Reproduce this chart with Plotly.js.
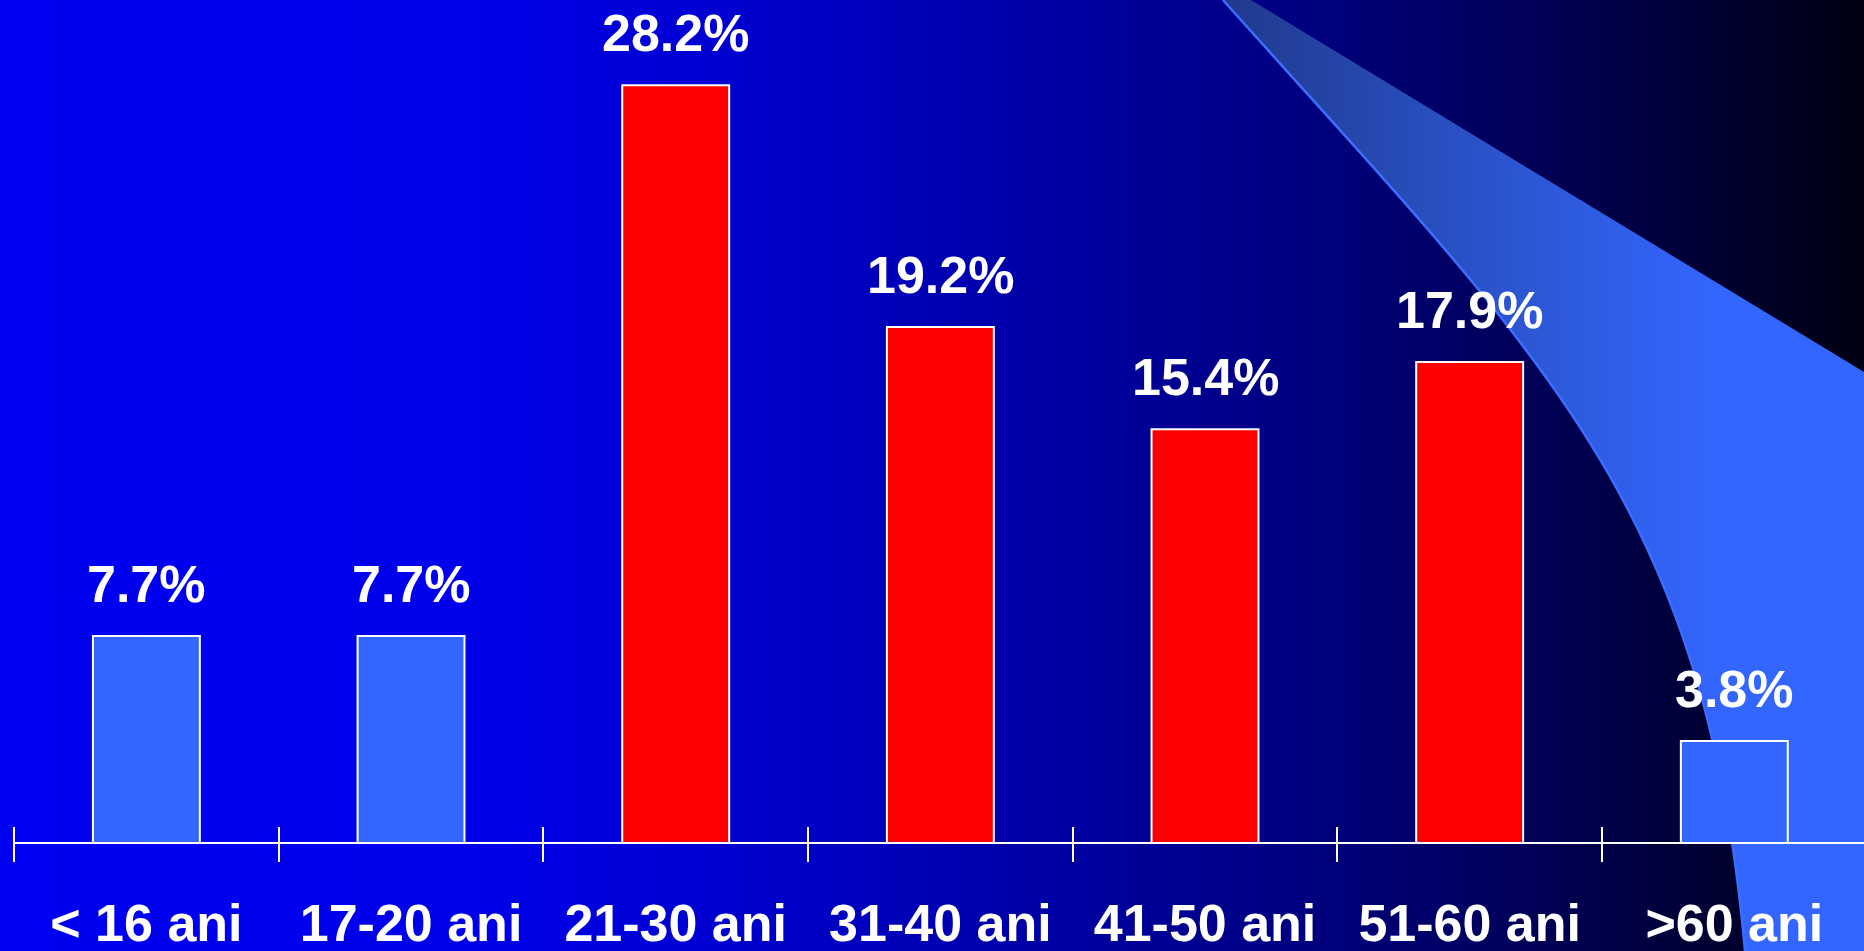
<!DOCTYPE html>
<html>
<head>
<meta charset="utf-8">
<script src="https://cdn.plot.ly/plotly-3.0.1.min.js"></script>
<style>
  html, body { margin: 0; padding: 0; overflow: hidden; }
  #wrap { position: relative; width: 1864px; height: 951px;
    background: linear-gradient(to right, #0000f2 0%, #0000ea 25%, #0000d2 38%, #0000a8 55%, #000080 70%, #00004e 85%, #000012 100%); }
  #swoosh { position: absolute; left: 0; top: 0; }
  #chart { position: absolute; left: 0; top: 0; width: 1864px; height: 951px; }
</style>
</head>
<body>
<div id="wrap">
  <svg id="swoosh" width="1864" height="951" viewBox="0 0 1864 951">
    <defs>
      <linearGradient id="sg" gradientUnits="userSpaceOnUse" x1="1230" y1="0" x2="1720" y2="0">
        <stop offset="0" stop-color="#203a8e"/>
        <stop offset="0.5" stop-color="#2a52c8"/>
        <stop offset="1" stop-color="#3366ff"/>
      </linearGradient>
    </defs>
    <path d="M1223,0 C1540,355 1705,500 1745,951 L1864,951 L1864,372 L1251,0 Z" fill="url(#sg)"/>
    <path d="M1223,0 C1540,355 1705,500 1745,951" fill="none" stroke="#3d6dff" stroke-width="2.5"/>
  </svg>
  <div id="chart"></div>
</div>
<script>
const categories = ["< 16 ani", "17-20 ani", "21-30 ani", "31-40 ani", "41-50 ani", "51-60 ani", ">60 ani"];
const percentages = [7.7, 7.7, 28.2, 19.2, 15.4, 17.9, 3.8];
const barColors = ["#3366ff", "#3366ff", "#ff0000", "#ff0000", "#ff0000", "#ff0000", "#3366ff"];

const fontFamily = "Liberation Sans, Arial, sans-serif";

const trace = {
  type: "bar",
  x: categories,
  y: percentages,
  marker: { color: barColors, line: { color: "#ffffff", width: 2 } },
  hoverinfo: "skip"
};

const annotations = categories.map((c, i) => ({
  x: c, y: percentages[i], xref: "x", yref: "y",
  text: percentages[i].toFixed(1) + "%",
  showarrow: false, yanchor: "bottom", yshift: 21,
  font: { family: fontFamily, size: 52, color: "#ffffff", weight: "bold" }
}));

const layout = {
  width: 1864, height: 951,
  margin: { l: 13, r: 0, t: 0, b: 89, pad: 0 },
  paper_bgcolor: "rgba(0,0,0,0)",
  plot_bgcolor: "rgba(0,0,0,0)",
  showlegend: false,
  bargap: 0.596,
  xaxis: {
    type: "category",
    categoryorder: "array", categoryarray: categories,
    range: [-0.504, 6.49],
    tickson: "boundaries",
    ticks: "inside", ticklen: 35, tickwidth: 2, tickcolor: "#ffffff",
    showline: false, showgrid: false, zeroline: false,
    ticklabelstandoff: 26,
    tickfont: { family: fontFamily, size: 52, color: "#ffffff", weight: "bold" },
    fixedrange: true
  },
  yaxis: {
    range: [-0.707, 31.37],
    showticklabels: false, ticks: "", showgrid: false, showline: false,
    zeroline: true, zerolinecolor: "#ffffff", zerolinewidth: 2,
    fixedrange: true
  },
  annotations: annotations
};

Plotly.newPlot("chart", [trace], layout, { displayModeBar: false, staticPlot: true });
</script>
</body>
</html>
